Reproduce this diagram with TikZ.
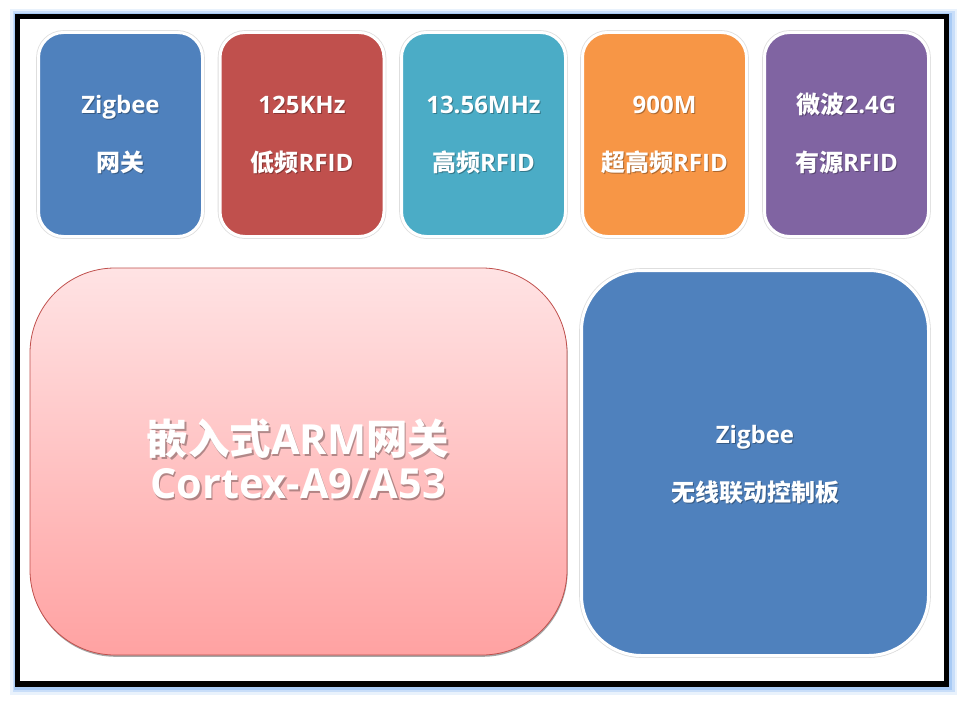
\documentclass[tikz,border=0pt]{standalone}
\usepackage{fontspec}
\setmainfont{Open Sans}
\newfontfamily\cjk{Noto Sans CJK SC}
\usetikzlibrary{shadows}
\definecolor{cblue}{HTML}{4F81BD}
\definecolor{cred}{HTML}{C0504D}
\definecolor{cteal}{HTML}{4BACC6}
\definecolor{corange}{HTML}{F79646}
\definecolor{cpurple}{HTML}{8064A2}
\definecolor{glow}{HTML}{A9CBF5}
\definecolor{pinktop}{HTML}{FFE3E4}
\definecolor{pinkbot}{HTML}{FFA2A2}
\begin{document}
\begin{tikzpicture}[x=1pt,y=-1pt,
  boxsh/.style={drop shadow={shadow xshift=0.6pt,shadow yshift=-1.8pt,opacity=0.35,fill=black}},
  ring/.style={preaction={draw=black!13,line width=4.6pt}},
  smallbox/.style={boxsh,ring,draw=white,line width=3pt,rounded corners=25pt,minimum width=164pt,minimum height=204pt,inner sep=0pt},
  txt/.style={text=white,font=\bfseries\fontsize{24}{28}\selectfont,inner sep=0pt,text height=17pt,text depth=0pt},
  txtsh/.style={txt,text=black,opacity=0.3},
  bigtxt/.style={txt,font=\bfseries\fontsize{41.5}{44}\selectfont,text height=29pt},
  bigtxtsh/.style={bigtxt,text=black,opacity=0.3}]
\useasboundingbox (0,0) rectangle (966,701);
% glow and frame
\draw[glow,line width=18pt,opacity=0.25] (19,18) rectangle (948,685.5);
\draw[glow,line width=13pt,opacity=0.5] (19,18) rectangle (948,685.5);
\draw[glow,line width=9pt] (18.5,17.5) rectangle (947.5,685);
\draw[black,line width=5.5pt,fill=white] (17.5,16.5) rectangle (946.5,684);
% top boxes
\node[smallbox,fill=cblue]   (b1) at (120.5,134.5) {};
\node[smallbox,fill=cred]    (b2) at (302,134.5) {};
\node[smallbox,fill=cteal]   (b3) at (483.5,134.5) {};
\node[smallbox,fill=corange] (b4) at (664.5,134.5) {};
\node[smallbox,fill=cpurple] (b5) at (846.5,134.5) {};
% big boxes
\node[boxsh,draw=cred,line width=0.8pt,top color=pinktop,bottom color=pinkbot,rounded corners=85pt,minimum width=537pt,minimum height=387pt] (arm) at (298.5,461.5) {};
\node[boxsh,ring,draw=white,line width=3pt,fill=cblue,rounded corners=60pt,minimum width=347pt,minimum height=385pt] (zb) at (755,463) {};
% labels top
\foreach \n/\x/\a/\b in {1/120.5/Zigbee/{\cjk 网关},2/302/125KHz/{{\cjk 低频}RFID},3/483.5/13.56MHz/{{\cjk 高频}RFID},4/664.5/900M/{{\cjk 超高频}RFID},5/846.5/{{\cjk 微波}2.4G}/{{\cjk 有源}RFID}}{
  \node[txtsh] (s\n a) at (\x+1,106) {\a};
  \node[txt]   (t\n a) at (\x,105) {\a};
  \node[txtsh] (s\n b) at (\x+1,164) {\b};
  \node[txt]   (t\n b) at (\x,163) {\b};
}
% arm labels
\node[bigtxtsh] (armsa) at (299.5,441.5) {{\cjk 嵌入式}ARM{\cjk 网关}};
\node[bigtxt]   (armta) at (298,440) {{\cjk 嵌入式}ARM{\cjk 网关}};
\node[bigtxtsh] (armsb) at (299.5,485.5) {Cortex-A9/A53};
\node[bigtxt]   (armtb) at (298,484) {Cortex-A9/A53};
% zigbee board labels
\node[txtsh] (zbsa) at (756,436) {Zigbee};
\node[txt]   (zbta) at (755,435) {Zigbee};
\node[txtsh] (zbsb) at (756,494) {\cjk 无线联动控制板};
\node[txt]   (zbtb) at (755,493) {\cjk 无线联动控制板};
\end{tikzpicture}
\end{document}
